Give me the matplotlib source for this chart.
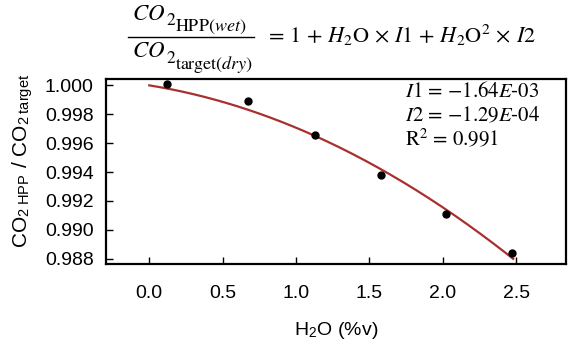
import numpy as np
import matplotlib
matplotlib.use("Agg")
import matplotlib.pyplot as plt
from matplotlib.lines import Line2D

# data
h2o = [0.12, 0.67, 1.13, 1.58, 2.02, 2.47]
ratio = [1.0001, 0.99895, 0.99655, 0.9938, 0.9911, 0.9884]
fit_i1 = -1.64e-3
fit_i2 = -1.29e-3
fit_range = [0.0, 2.48]
xticks = [0.0, 0.5, 1.0, 1.5, 2.0, 2.5]
yticks = [0.988, 0.990, 0.992, 0.994, 0.996, 0.998, 1.000]

plt.rcParams['mathtext.fontset'] = 'stix'
plt.rcParams['font.family'] = ['Liberation Sans', 'DejaVu Sans']

W, H = 568, 346
fig = plt.figure(figsize=(W/100, H/100), dpi=100)
ax = fig.add_axes([106/W, 1-264/H, (566-106)/W, (264-79)/H])

def P(x, y):
    return x/W, 1-y/H

xf = np.linspace(fit_range[0], fit_range[1], 200)
yf = 1 + fit_i1*xf + fit_i2*xf**2
ax.plot(xf, yf, color='#A8302E', lw=1.6, zorder=2)
ax.plot(h2o, ratio, 'o', color='black', ms=5, zorder=3)

ax.set_xlim(-0.295, 2.84)
ax.set_ylim(0.98764, 1.00044)
ax.set_xticks(xticks)
ax.set_xticklabels([f"{v:.1f}" for v in xticks])
ax.set_yticks(yticks)
ax.set_yticklabels([f"{v:.3f}" for v in yticks])
ax.tick_params(axis='both', direction='in', labelsize=14, width=1, length=5)
ax.tick_params(axis='x', pad=15)
ax.tick_params(axis='y', pad=9)
for s in ax.spines.values():
    s.set_linewidth(1.6)

ax.set_xlabel(r'H$_{\mathregular{2}}$O (%v)', fontsize=14, labelpad=13)
ax.set_ylabel(r'CO$_{\mathregular{2\ HPP}}$ / CO$_{\mathregular{2\ target}}$', fontsize=15)
ax.yaxis.set_label_coords(-0.155, 0.56)

txt_kw = dict(fontsize=15, family='STIXGeneral', va='center', ha='left')
fig.text(*P(405, 92), r'$I1$ = $-$1.64$E$-03', **txt_kw)
fig.text(*P(405, 116), r'$I2$ = $-$1.29$E$-04', **txt_kw)
fig.text(*P(405, 139), r'R$^2$ = 0.991', **txt_kw)

# equation title, composed piecewise
bk = dict(va='baseline', ha='left')
fig.text(*P(132, 20), r'$CO$', fontsize=16.5, **bk)
fig.text(*P(166, 25), r'$\mathrm{2}$', fontsize=12.5, **bk)
fig.text(*P(175, 31), r'$\mathrm{HPP}(wet)$', fontsize=13, **bk)
fig.add_artist(Line2D([128/W, 254/W], [1-37/H, 1-37/H], color='black', lw=1.0))
fig.text(*P(132, 57), r'$CO$', fontsize=16.5, **bk)
fig.text(*P(166, 63), r'$\mathrm{2}$', fontsize=12.5, **bk)
fig.text(*P(175, 69), r'$\mathrm{target}(dry)$', fontsize=13, **bk)
fig.text(*P(536, 43),
         r'$=\,1\,+\,H_2\mathrm{O}\,\times\,I1\,+\,H_2\mathrm{O}^2\,\times\,I2$',
         fontsize=16, va='baseline', ha='right')

fig.savefig('out.png', dpi=100)
